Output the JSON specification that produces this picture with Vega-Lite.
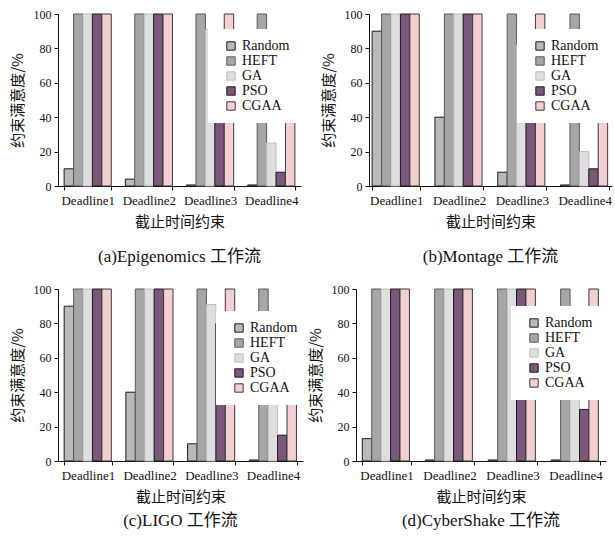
{
  "$schema": "https://vega.github.io/schema/vega-lite/v6.json",
  "padding": {"left": 10, "top": 8, "right": 2, "bottom": 2},
  "background": "white",
  "data": {"values": [
    {"panel": "a", "deadline": "Deadline1", "algo": "Random", "value": 10},
    {"panel": "a", "deadline": "Deadline1", "algo": "HEFT", "value": 100},
    {"panel": "a", "deadline": "Deadline1", "algo": "GA", "value": 100},
    {"panel": "a", "deadline": "Deadline1", "algo": "PSO", "value": 100},
    {"panel": "a", "deadline": "Deadline1", "algo": "CGAA", "value": 100},
    {"panel": "a", "deadline": "Deadline2", "algo": "Random", "value": 4},
    {"panel": "a", "deadline": "Deadline2", "algo": "HEFT", "value": 100},
    {"panel": "a", "deadline": "Deadline2", "algo": "GA", "value": 100},
    {"panel": "a", "deadline": "Deadline2", "algo": "PSO", "value": 100},
    {"panel": "a", "deadline": "Deadline2", "algo": "CGAA", "value": 100},
    {"panel": "a", "deadline": "Deadline3", "algo": "Random", "value": 0.6},
    {"panel": "a", "deadline": "Deadline3", "algo": "HEFT", "value": 100},
    {"panel": "a", "deadline": "Deadline3", "algo": "GA", "value": 91},
    {"panel": "a", "deadline": "Deadline3", "algo": "PSO", "value": 80},
    {"panel": "a", "deadline": "Deadline3", "algo": "CGAA", "value": 100},
    {"panel": "a", "deadline": "Deadline4", "algo": "Random", "value": 0.6},
    {"panel": "a", "deadline": "Deadline4", "algo": "HEFT", "value": 100},
    {"panel": "a", "deadline": "Deadline4", "algo": "GA", "value": 25},
    {"panel": "a", "deadline": "Deadline4", "algo": "PSO", "value": 8},
    {"panel": "a", "deadline": "Deadline4", "algo": "CGAA", "value": 80},
    {"panel": "b", "deadline": "Deadline1", "algo": "Random", "value": 90},
    {"panel": "b", "deadline": "Deadline1", "algo": "HEFT", "value": 100},
    {"panel": "b", "deadline": "Deadline1", "algo": "GA", "value": 100},
    {"panel": "b", "deadline": "Deadline1", "algo": "PSO", "value": 100},
    {"panel": "b", "deadline": "Deadline1", "algo": "CGAA", "value": 100},
    {"panel": "b", "deadline": "Deadline2", "algo": "Random", "value": 40},
    {"panel": "b", "deadline": "Deadline2", "algo": "HEFT", "value": 100},
    {"panel": "b", "deadline": "Deadline2", "algo": "GA", "value": 100},
    {"panel": "b", "deadline": "Deadline2", "algo": "PSO", "value": 100},
    {"panel": "b", "deadline": "Deadline2", "algo": "CGAA", "value": 100},
    {"panel": "b", "deadline": "Deadline3", "algo": "Random", "value": 8},
    {"panel": "b", "deadline": "Deadline3", "algo": "HEFT", "value": 100},
    {"panel": "b", "deadline": "Deadline3", "algo": "GA", "value": 82},
    {"panel": "b", "deadline": "Deadline3", "algo": "PSO", "value": 80},
    {"panel": "b", "deadline": "Deadline3", "algo": "CGAA", "value": 100},
    {"panel": "b", "deadline": "Deadline4", "algo": "Random", "value": 0.6},
    {"panel": "b", "deadline": "Deadline4", "algo": "HEFT", "value": 100},
    {"panel": "b", "deadline": "Deadline4", "algo": "GA", "value": 20},
    {"panel": "b", "deadline": "Deadline4", "algo": "PSO", "value": 10},
    {"panel": "b", "deadline": "Deadline4", "algo": "CGAA", "value": 80},
    {"panel": "c", "deadline": "Deadline1", "algo": "Random", "value": 90},
    {"panel": "c", "deadline": "Deadline1", "algo": "HEFT", "value": 100},
    {"panel": "c", "deadline": "Deadline1", "algo": "GA", "value": 100},
    {"panel": "c", "deadline": "Deadline1", "algo": "PSO", "value": 100},
    {"panel": "c", "deadline": "Deadline1", "algo": "CGAA", "value": 100},
    {"panel": "c", "deadline": "Deadline2", "algo": "Random", "value": 40},
    {"panel": "c", "deadline": "Deadline2", "algo": "HEFT", "value": 100},
    {"panel": "c", "deadline": "Deadline2", "algo": "GA", "value": 100},
    {"panel": "c", "deadline": "Deadline2", "algo": "PSO", "value": 100},
    {"panel": "c", "deadline": "Deadline2", "algo": "CGAA", "value": 100},
    {"panel": "c", "deadline": "Deadline3", "algo": "Random", "value": 10},
    {"panel": "c", "deadline": "Deadline3", "algo": "HEFT", "value": 100},
    {"panel": "c", "deadline": "Deadline3", "algo": "GA", "value": 91},
    {"panel": "c", "deadline": "Deadline3", "algo": "PSO", "value": 80},
    {"panel": "c", "deadline": "Deadline3", "algo": "CGAA", "value": 100},
    {"panel": "c", "deadline": "Deadline4", "algo": "Random", "value": 0.6},
    {"panel": "c", "deadline": "Deadline4", "algo": "HEFT", "value": 100},
    {"panel": "c", "deadline": "Deadline4", "algo": "GA", "value": 33},
    {"panel": "c", "deadline": "Deadline4", "algo": "PSO", "value": 15},
    {"panel": "c", "deadline": "Deadline4", "algo": "CGAA", "value": 80},
    {"panel": "d", "deadline": "Deadline1", "algo": "Random", "value": 13},
    {"panel": "d", "deadline": "Deadline1", "algo": "HEFT", "value": 100},
    {"panel": "d", "deadline": "Deadline1", "algo": "GA", "value": 100},
    {"panel": "d", "deadline": "Deadline1", "algo": "PSO", "value": 100},
    {"panel": "d", "deadline": "Deadline1", "algo": "CGAA", "value": 100},
    {"panel": "d", "deadline": "Deadline2", "algo": "Random", "value": 0.6},
    {"panel": "d", "deadline": "Deadline2", "algo": "HEFT", "value": 100},
    {"panel": "d", "deadline": "Deadline2", "algo": "GA", "value": 100},
    {"panel": "d", "deadline": "Deadline2", "algo": "PSO", "value": 100},
    {"panel": "d", "deadline": "Deadline2", "algo": "CGAA", "value": 100},
    {"panel": "d", "deadline": "Deadline3", "algo": "Random", "value": 0.6},
    {"panel": "d", "deadline": "Deadline3", "algo": "HEFT", "value": 100},
    {"panel": "d", "deadline": "Deadline3", "algo": "GA", "value": 100},
    {"panel": "d", "deadline": "Deadline3", "algo": "PSO", "value": 100},
    {"panel": "d", "deadline": "Deadline3", "algo": "CGAA", "value": 100},
    {"panel": "d", "deadline": "Deadline4", "algo": "Random", "value": 0.6},
    {"panel": "d", "deadline": "Deadline4", "algo": "HEFT", "value": 100},
    {"panel": "d", "deadline": "Deadline4", "algo": "GA", "value": 80},
    {"panel": "d", "deadline": "Deadline4", "algo": "PSO", "value": 30},
    {"panel": "d", "deadline": "Deadline4", "algo": "CGAA", "value": 100}
  ]},
  "spacing": 18,
  "vconcat": [
    {
      "spacing": 20,
      "hconcat": [
        {
          "width": 243, "height": 172,
          "title": {"text": "(a)Epigenomics 工作流", "offset": 20},
          "transform": [{"filter": "datum.panel === 'a'"}],
          "mark": {"type": "bar", "strokeWidth": 1},
          "encoding": {
            "x": {"field": "deadline", "type": "nominal", "scale": {"paddingInner": 0.23, "paddingOuter": 0.1}, "axis": {"title": "截止时间约束"}},
            "xOffset": {"field": "algo", "type": "nominal", "sort": ["Random", "HEFT", "GA", "PSO", "CGAA"]},
            "y": {"field": "value", "type": "quantitative", "scale": {"domain": [0, 100]}, "axis": {"title": "约束满意度/%"}},
            "fill": {"field": "algo", "type": "nominal", "sort": ["Random", "HEFT", "GA", "PSO", "CGAA"], "scale": {"domain": ["Random", "HEFT", "GA", "PSO", "CGAA"], "range": ["#b9b9b9", "#a6a6a6", "#dedede", "#7b587b", "#f3cfd1"]}, "legend": {"legendX": 150, "legendY": 15, "labelFont": "Liberation Serif"}},
            "stroke": {"field": "algo", "type": "nominal", "scale": {"domain": ["Random", "HEFT", "GA", "PSO", "CGAA"], "range": ["#1a1a1a", "#5a5a5a", "#bdbdbd", "#1a1a1a", "#3a3a3a"]}, "legend": null}
          }
        },
        {
          "width": 243, "height": 172,
          "title": {"text": "(b)Montage 工作流", "offset": 20},
          "transform": [{"filter": "datum.panel === 'b'"}],
          "mark": {"type": "bar", "strokeWidth": 1},
          "encoding": {
            "x": {"field": "deadline", "type": "nominal", "scale": {"paddingInner": 0.23, "paddingOuter": 0.05}, "axis": {"title": "截止时间约束"}},
            "xOffset": {"field": "algo", "type": "nominal", "sort": ["Random", "HEFT", "GA", "PSO", "CGAA"]},
            "y": {"field": "value", "type": "quantitative", "scale": {"domain": [0, 100]}, "axis": {"title": "约束满意度/%"}},
            "fill": {"field": "algo", "type": "nominal", "sort": ["Random", "HEFT", "GA", "PSO", "CGAA"], "scale": {"domain": ["Random", "HEFT", "GA", "PSO", "CGAA"], "range": ["#b9b9b9", "#a6a6a6", "#dedede", "#7b587b", "#f3cfd1"]}, "legend": {"legendX": 148, "legendY": 15, "labelFont": "Liberation Serif"}},
            "stroke": {"field": "algo", "type": "nominal", "scale": {"domain": ["Random", "HEFT", "GA", "PSO", "CGAA"], "range": ["#1a1a1a", "#5a5a5a", "#bdbdbd", "#1a1a1a", "#3a3a3a"]}, "legend": null}
          }
        }
      ],
      "resolve": {"scale": {"fill": "independent", "stroke": "independent"}, "legend": {"fill": "independent"}}
    },
    {
      "spacing": 0,
      "hconcat": [
        {
          "width": 245, "height": 172,
          "title": {"text": "(c)LIGO 工作流", "offset": 9},
          "transform": [{"filter": "datum.panel === 'c'"}],
          "mark": {"type": "bar", "strokeWidth": 1},
          "encoding": {
            "x": {"field": "deadline", "type": "nominal", "scale": {"paddingInner": 0.23, "paddingOuter": 0.1}, "axis": {"title": "截止时间约束"}},
            "xOffset": {"field": "algo", "type": "nominal", "sort": ["Random", "HEFT", "GA", "PSO", "CGAA"]},
            "y": {"field": "value", "type": "quantitative", "scale": {"domain": [0, 100]}, "axis": {"title": "约束满意度/%"}},
            "fill": {"field": "algo", "type": "nominal", "sort": ["Random", "HEFT", "GA", "PSO", "CGAA"], "scale": {"domain": ["Random", "HEFT", "GA", "PSO", "CGAA"], "range": ["#b9b9b9", "#a6a6a6", "#dedede", "#7b587b", "#f3cfd1"]}, "legend": {"legendX": 158, "legendY": 22, "labelFont": "Liberation Serif"}},
            "stroke": {"field": "algo", "type": "nominal", "scale": {"domain": ["Random", "HEFT", "GA", "PSO", "CGAA"], "range": ["#1a1a1a", "#5a5a5a", "#bdbdbd", "#1a1a1a", "#3a3a3a"]}, "legend": null}
          }
        },
        {
          "width": 250, "height": 172,
          "title": {"text": "(d)CyberShake 工作流", "offset": 9},
          "transform": [{"filter": "datum.panel === 'd'"}],
          "mark": {"type": "bar", "strokeWidth": 1},
          "encoding": {
            "x": {"field": "deadline", "type": "nominal", "scale": {"paddingInner": 0.23, "paddingOuter": 0.1}, "axis": {"title": "截止时间约束"}},
            "xOffset": {"field": "algo", "type": "nominal", "sort": ["Random", "HEFT", "GA", "PSO", "CGAA"]},
            "y": {"field": "value", "type": "quantitative", "scale": {"domain": [0, 100]}, "axis": {"title": "约束满意度/%"}},
            "fill": {"field": "algo", "type": "nominal", "sort": ["Random", "HEFT", "GA", "PSO", "CGAA"], "scale": {"domain": ["Random", "HEFT", "GA", "PSO", "CGAA"], "range": ["#b9b9b9", "#a6a6a6", "#dedede", "#7b587b", "#f3cfd1"]}, "legend": {"legendX": 155, "legendY": 17, "labelFont": "Liberation Serif"}},
            "stroke": {"field": "algo", "type": "nominal", "scale": {"domain": ["Random", "HEFT", "GA", "PSO", "CGAA"], "range": ["#1a1a1a", "#5a5a5a", "#bdbdbd", "#1a1a1a", "#3a3a3a"]}, "legend": null}
          }
        }
      ],
      "resolve": {"scale": {"fill": "independent", "stroke": "independent"}, "legend": {"fill": "independent"}}
    }
  ],
  "resolve": {"scale": {"fill": "independent", "stroke": "independent"}, "legend": {"fill": "independent"}},
  "config": {
    "view": {"stroke": null},
    "font": "Liberation Serif",
    "axis": {
      "domainColor": "#111", "tickColor": "#111", "labelColor": "#111", "titleColor": "#111",
      "labelFont": "Liberation Serif", "labelFontSize": 13,
      "titleFont": "Noto Sans CJK SC", "titleFontSize": 15, "titleFontWeight": "normal",
      "grid": false, "tickSize": 4
    },
    "axisX": {"labelAngle": 0, "tickBand": "extent", "titlePadding": 7, "labelPadding": 4},
    "axisY": {"values": [0, 20, 40, 60, 80, 100], "titlePadding": 8, "labelPadding": 3, "labelFontSize": 12, "labelFont": "Liberation Serif"},
    "legend": {
      "orient": "none", "title": null, "fillColor": "white", "padding": 10,
      "labelFont": "Liberation Serif", "labelFontSize": 14, "labelColor": "#111",
      "symbolType": "square", "symbolSize": 70, "symbolStrokeColor": "#222", "symbolStrokeWidth": 1,
      "symbolOffset": 6, "rowPadding": 1, "labelOffset": 4
    },
    "title": {
      "orient": "bottom", "font": "Liberation Serif, Noto Sans CJK SC", "fontSize": 17, "fontWeight": "normal", "color": "#111", "anchor": "middle"
    }
  }
}
